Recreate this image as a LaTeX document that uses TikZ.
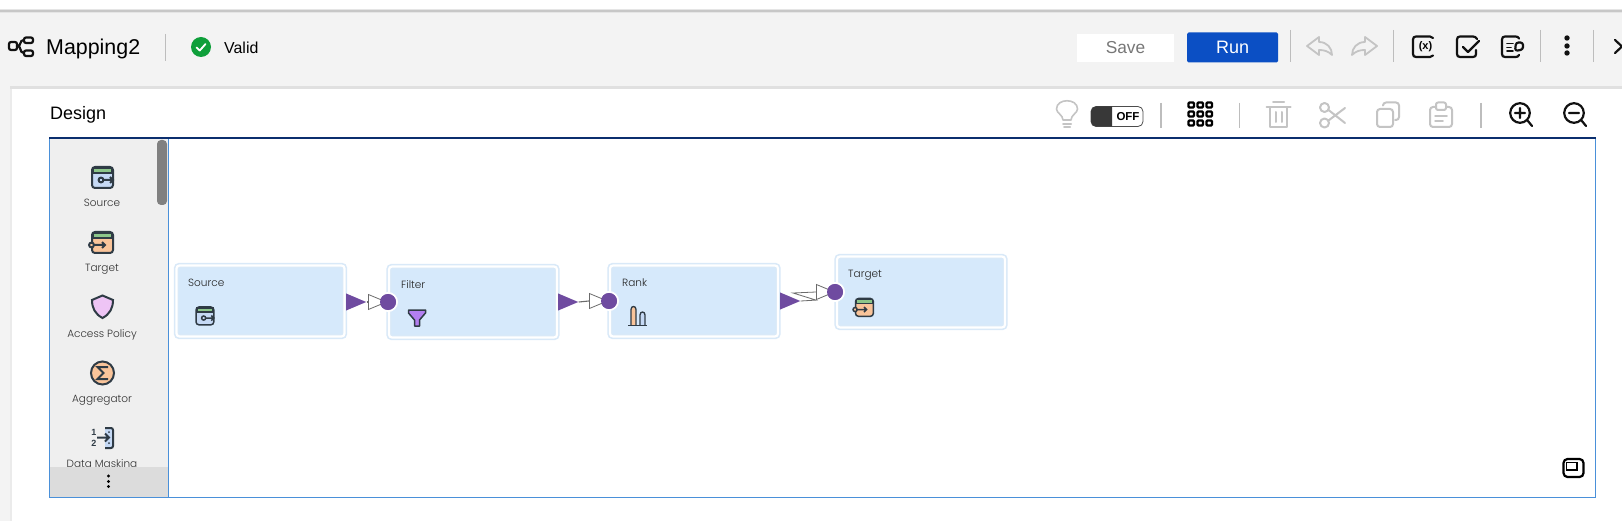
\documentclass[tikz,border=0pt]{standalone}
\usepackage{fontspec}
\setmainfont{Liberation Sans}
\newfontfamily\gothic{Poppins}[UprightFont=* Light]
\usetikzlibrary{shapes.geometric}

\definecolor{barbg}{HTML}{F3F3F3}
\definecolor{palettebg}{HTML}{EFEFEF}
\definecolor{morebg}{HTML}{DCDCDC}
\definecolor{frameblue}{HTML}{4A90D9}
\definecolor{framenavy}{HTML}{0B2E6E}
\definecolor{boxfill}{HTML}{D6E9FB}
\definecolor{boxedge}{HTML}{D9E9F8}
\definecolor{portfill}{HTML}{6F4BA0}
\definecolor{wirecol}{HTML}{6B6B6B}
\definecolor{ink}{HTML}{111111}
\definecolor{inkdim}{HTML}{C4C4C4}
\definecolor{inkicon}{HTML}{2F3B45}
\definecolor{sepcol}{HTML}{BDBDBD}
\definecolor{runblue}{HTML}{0B4FC4}
\definecolor{okgreen}{HTML}{0E9F3A}
\definecolor{savecol}{HTML}{777777}
\definecolor{iconblue}{HTML}{C5D9F5}
\definecolor{icongreen}{HTML}{8CC68A}
\definecolor{iconorange}{HTML}{F9C49A}
\definecolor{iconpink}{HTML}{EEC4F5}
\definecolor{iconpurple}{HTML}{B37FF0}

\tikzset{
  mapbox/.style={draw=boxedge,double=white,double distance=2.2,line width=1.6,fill=boxfill,rounded corners=3,minimum width=168,minimum height=71,inner sep=0},
  boxlabel/.style={anchor=west,inner sep=0,font=\gothic\fontsize{10.5}{12}\selectfont,text=black!85},
  palettelabel/.style={inner sep=0,font=\gothic\fontsize{10.5}{12}\selectfont,text=black!80},
  barlabel/.style={inner sep=0,font=\fontsize{#1}{20}\selectfont},
  outport/.style={isosceles triangle,isosceles triangle stretches,fill=portfill,minimum width=17,minimum height=20,inner sep=0,anchor=lower side},
  inarrow/.style={isosceles triangle,isosceles triangle stretches,draw=wirecol,fill=white,line width=.8,minimum width=15,minimum height=18,inner sep=0,anchor=lower side},
  inport/.style={circle,fill=portfill,draw=white,line width=2,minimum size=18,inner sep=0},
  wire/.style={draw=wirecol,line width=1.1},
  sepline/.style={draw=sepcol,line width=1},
  blackicon/.style={draw=ink,line width=2.2,line cap=round,line join=round},
  dimicon/.style={draw=inkdim,line width=2,line cap=round,line join=round},
  srcicon/.pic={
    \draw[draw=inkicon,fill=iconblue,rounded corners=3] (0,0) rectangle (21,21);
    \draw[draw=inkicon,fill=icongreen] (1,1) rectangle (20,6);
    \draw[draw=inkicon] (9,13) circle (2.4);
    \draw[draw=inkicon] (11.5,13) -- (21,13) (18,10) -- (21,13) -- (18,16);
  },
  tgticon/.pic={
    \draw[draw=inkicon,fill=iconorange,rounded corners=3] (0,0) rectangle (21,21);
    \draw[draw=inkicon,fill=icongreen] (1,1) rectangle (20,6);
    \draw[draw=inkicon,fill=iconorange] (-.5,13) circle (2.4);
    \draw[draw=inkicon] (2,13) -- (13,13) (10,10) -- (13,13) -- (10,16);
  },
}

\begin{document}
\begin{tikzpicture}[x=1pt,y=-1pt]
\useasboundingbox (0,0) rectangle (1622,521);
\fill[white] (0,0) rectangle (1622,521);

% top bar
\fill[barbg] (0,11) rectangle (1622,521);
\fill[black!10] (0,9.5) rectangle (1622,13);
\fill[black!22] (0,10.5) rectangle (1622,12);
\fill[black!12] (9.5,86.5) rectangle (1622,89);
\fill[black!8] (9.5,89) rectangle (12,521);
\fill[white] (12,89) rectangle (1622,521);

\draw[blackicon,rounded corners=2] (9,42) rectangle (17,50);
\draw[blackicon,rounded corners=2] (24,37.5) rectangle (33,43);
\draw[blackicon,rounded corners=2] (24,50.5) rectangle (33,56);
\draw[blackicon] (24,40) .. controls (19,40) and (22,46) .. (17,46) .. controls (22,46) and (19,53) .. (24,53);
\node[barlabel=21.4,anchor=west] (mapname) at (46,48.5) {Mapping2};
\draw[sepline] (165,34) -- (165,61);
\node[circle,fill=okgreen,minimum size=20,inner sep=0] (validdot) at (201,47) {};
\draw[white,line width=1.8,line cap=round,line join=round] (196.5,47.5) -- (199.8,50.5) -- (205.5,44);
\node[barlabel=15.9,anchor=west] (validtext) at (224,48) {Valid};

\node[fill=white,minimum width=97,minimum height=28,inner sep=0,text=savecol,font=\fontsize{17.3}{20}\selectfont] (savebtn) at (1125.5,48) {Save};
\node[fill=runblue,rounded corners=1.5,minimum width=91,minimum height=30,inner sep=0,text=white,font=\fontsize{18}{20}\selectfont] (runbtn) at (1232.5,47.5) {Run};
\draw[sepline] (1290.5,30) -- (1290.5,62);
\draw[sepline] (1393,30) -- (1393,62);
\draw[sepline] (1540.5,30) -- (1540.5,62);
\draw[sepline] (1593,30) -- (1593,62);

% undo, redo
\draw[dimicon,line width=1.8] (1307,46) -- (1319,37) -- (1319,42) .. controls (1327,42) and (1332,48) .. (1332,55) .. controls (1328,51) and (1324,50) .. (1319,50) -- (1319,55) -- cycle;
\draw[dimicon,line width=1.8] (1377,46) -- (1365,37) -- (1365,42) .. controls (1357,42) and (1352,48) .. (1352,55) .. controls (1356,51) and (1360,50) .. (1365,50) -- (1365,55) -- cycle;

\draw[blackicon] (1433,38) .. controls (1432,37) and (1431,36.5) .. (1430,36.5) -- (1416,36.5) .. controls (1414,36.5) and (1413,37.5) .. (1413,39.5) -- (1413,54) .. controls (1413,56) and (1414,57) .. (1416,57) -- (1430,57) .. controls (1431,57) and (1432,56.5) .. (1433,55.5);
\node[inner sep=0,font=\bfseries\fontsize{11}{12}\selectfont] (fieldsym) at (1425.5,46.5) {(x)};
\draw[blackicon] (1477,39) .. controls (1476,37.5) and (1475,36.5) .. (1473,36.5) -- (1460,36.5) .. controls (1458,36.5) and (1457,37.5) .. (1457,39.5) -- (1457,54) .. controls (1457,56) and (1458,57) .. (1460,57) -- (1473,57) .. controls (1475,57) and (1476,56) .. (1476,54) -- (1476,50);
\draw[blackicon] (1463,47) -- (1468,52) -- (1479,41);
\draw[blackicon] (1519,38.5) .. controls (1518.5,37) and (1517,36.5) .. (1515.5,36.5) -- (1505,36.5) .. controls (1503,36.5) and (1502,37.5) .. (1502,39.5) -- (1502,54) .. controls (1502,56) and (1503,57) .. (1505,57) -- (1515.5,57) .. controls (1517,57) and (1518.5,56.5) .. (1519,55);
\draw[blackicon,line width=1.8] (1507,43.5) -- (1513,43.5) (1507,47.5) -- (1511,47.5) (1507,51) -- (1513,51);
\draw[blackicon,line width=2.2,rounded corners=2.5] (1516,42.5) -- (1523,42.5) -- (1523,49.5) -- (1515,51) -- cycle;
\foreach \doty in {38,46,53}
  \fill[ink] (1567,\doty) circle (2.7);
\draw[blackicon] (1615,40) -- (1622,46.5) -- (1615,53);

% design panel
\node[barlabel=18,anchor=west] (designtext) at (50,115) {Design};

\draw[dimicon,line width=1.6] (1063,120) .. controls (1063,115) and (1056.5,113) .. (1056.5,109) .. controls (1056.5,98) and (1077.5,98) .. (1077.5,109) .. controls (1077.5,113) and (1071,115) .. (1071,120) -- cycle;
\draw[dimicon,line width=2] (1063,124) -- (1071,124) (1064,127.5) -- (1070,127.5);
\node[draw=black!70,fill=white,line width=.8,rounded corners=5,minimum width=52,minimum height=20,inner sep=0] (offswitch) at (1117,116.5) {};
\fill[black!78] (1112,106.5) -- (1112,126.5) [rounded corners=5] -- (1091,126.5) -- (1091,106.5) [sharp corners] -- cycle;
\node[inner sep=0,font=\bfseries\fontsize{11.5}{12}\selectfont] (offtext) at (1128,116.5) {OFF};
\draw[sepline,line width=1.5] (1161,103) -- (1161,128);
\foreach \gridx in {1188.5,1197.5,1206.5}
  \foreach \gridy in {102.5,111.5,120.5}
    \draw[draw=black,line width=2.2,rounded corners=1] (\gridx,\gridy) rectangle ++(5.5,5);
\draw[sepline] (1239,103) -- (1239,128);

\draw[dimicon] (1270,107) -- (1270,127) -- (1287,127) -- (1287,107) (1266.5,107) -- (1290.5,107) (1273,102) -- (1284,102) (1275.5,112) -- (1275.5,122) (1281.5,112) -- (1281.5,122);
\draw[dimicon] (1324.5,107.5) circle (4.5);
\draw[dimicon] (1324.5,123) circle (4.5);
\draw[dimicon] (1328.5,110) -- (1345,123) (1328.5,120.5) -- (1345,108);
\draw[dimicon,rounded corners=3] (1377,109) rectangle (1393,127);
\draw[dimicon,rounded corners=3] (1383,105) -- (1383,102.5) -- (1399,102.5) -- (1399,120) -- (1395,120);
\draw[dimicon,rounded corners=3] (1436,107) -- (1430,107) -- (1430,127) -- (1452,127) -- (1452,107) -- (1446,107);
\draw[dimicon,rounded corners=2] (1436,102.5) rectangle (1446,110);
\draw[dimicon,line width=1.5] (1435,116) -- (1447,116) (1435,121) -- (1443,121);
\draw[sepline,line width=1.5] (1481,103) -- (1481,128);

\draw[blackicon] (1520,113) circle (9.8);
\draw[blackicon] (1527.5,120.5) -- (1532,126) (1515,113) -- (1525,113) (1520,108) -- (1520,118);
\draw[blackicon] (1574,113) circle (9.8);
\draw[blackicon] (1581.5,120.5) -- (1586,126) (1569,113) -- (1579,113);

% canvas and palette
\begin{scope}
\clip (49,138) rectangle (168,467);
\fill[palettebg] (49,138) rectangle (168,497);
\pic[line width=2] at (92,167) {srcicon};
\node[palettelabel] (srcname) at (102,203) {Source};
\pic[line width=2] at (92,232) {tgticon};
\node[palettelabel] (tgtname) at (102,269) {Target};
\draw[draw=inkicon,fill=iconpink,line width=2] (102.5,295.5) -- (113,300) .. controls (113,308) and (110,314) .. (102.5,318) .. controls (95,314) and (92,308) .. (92,300) -- cycle;
\node[palettelabel] (accname) at (102,335) {Access Policy};
\draw[draw=inkicon,fill=iconorange,line width=2] (102.5,373) circle (11.5);
\draw[draw=inkicon,line width=2,line join=miter] (108,367) -- (97.5,367) -- (103.5,373) -- (97.5,379) -- (108,379);
\node[palettelabel] (aggname) at (102,400) {Aggregator};
\node[inner sep=0,font=\bfseries\fontsize{9}{9}\selectfont,text=inkicon] (maskone) at (94,432) {1};
\node[inner sep=0,font=\bfseries\fontsize{9}{9}\selectfont,text=inkicon] (masktwo) at (94,443) {2};
\draw[draw=inkicon,fill=iconblue,line width=2,rounded corners=2] (105,428) -- (113,428) -- (113,448) -- (105,448);
\draw[draw=inkicon,line width=2] (97,437.5) -- (109,437.5) (105,433.5) -- (109,437.5) -- (105,441.5);
\fill[inkicon] (109,432) circle (1) (109,443) circle (1);
\node[palettelabel] (maskname) at (102,465) {Data Masking};
\end{scope}
\fill[palettebg] (157,138) rectangle (168,467);
\fill[morebg] (49,467) rectangle (168,497);
\fill[black!50,rounded corners=4] (157,140) rectangle (167,205);
\foreach \doty in {476,481.5,486.5}
  \fill[black] (108.5,\doty) circle (1.7);
\draw[frameblue,line width=1] (168,138) -- (168,497);
\draw[frameblue,line width=1] (49,138) rectangle (1595.5,497);
\draw[framenavy,line width=1.2] (49,138) -- (1595.5,138);

\draw[black,line width=2.2,rounded corners=4] (1563.5,459) rectangle (1583.5,477);
\draw[black,line width=1.4] (1566.5,462.5) rectangle (1577,470);

% mapping
\node[mapbox] (source) at (260.5,301) {};
\node[mapbox] (filter) at (473,302) {};
\node[mapbox] (rank) at (694,301) {};
\node[mapbox] (target) at (921,292) {};

\node[boxlabel] (sourcelabel) at (188,283) {Source};
\node[boxlabel] (filterlabel) at (401,285) {Filter};
\node[boxlabel] (ranklabel) at (622,283) {Rank};
\node[boxlabel] (targetlabel) at (848,275) {Target};

\pic[line width=1.5,scale=.85] at (196,307) {srcicon};
\draw[draw=inkicon,fill=iconpurple,line width=1.5,line join=round] (408.5,310) -- (425.5,310) -- (425.5,313) -- (419.5,320) -- (419.5,326) -- (414.5,326) -- (414.5,320) -- (408.5,313) -- cycle;
\draw[draw=inkicon,fill=iconorange,line width=1.3] (631,325) -- (631,309.5) .. controls (631,305.5) and (636,305.5) .. (636,309.5) -- (636,325);
\draw[draw=inkicon,fill=iconblue,line width=1.3] (640,325) -- (640,315) .. controls (640,311) and (645,311) .. (645,315) -- (645,325);
\draw[draw=inkicon,line width=1.3] (628,325.5) -- (647,325.5);
\pic[line width=1.5,scale=.85] at (855.5,298.5) {tgticon};

\node[outport] (sourceout) at (346,302) {};
\node[outport] (filterout) at (558,302) {};
\node[outport] (rankout) at (780,301) {};
\node[inport] (filterin) at (388,302) {};
\node[inport] (rankin) at (609,301) {};
\node[inport] (targetin) at (835,292) {};
\node[inarrow] (filterarrow) at (368,302) {};
\node[inarrow] (rankarrow) at (589,301) {};
\node[inarrow] (targetarrow) at (816,292) {};
\coordinate (targetbend) at (793,293);

\draw[wire] (sourceout.apex) -- (filterarrow.lower side);
\draw[wire] (filterout.apex) -- (rankarrow.lower side);
\draw[wire,line width=.8] (rankout.apex) -- (targetarrow.right corner) -- (targetbend) -- (targetarrow.lower side);
\foreach \port in {filterin,rankin,targetin}
  \fill[portfill] (\port) circle (8);

\end{tikzpicture}
\end{document}
